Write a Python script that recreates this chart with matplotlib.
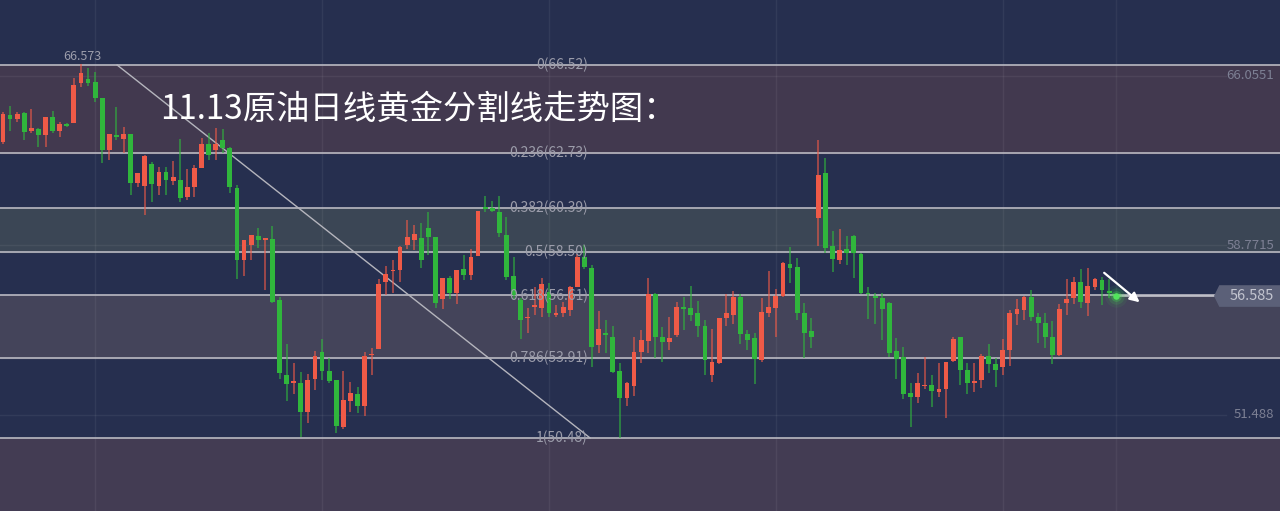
import numpy as np
import matplotlib
matplotlib.use("Agg")
import matplotlib.pyplot as plt
from matplotlib.patches import Polygon

plt.rcParams['font.family'] = ['Noto Sans CJK SC', 'DejaVu Sans']

# ── Données ─────────────────────────────────────────────────────────────
opens = [63.21, 64.37, 64.20, 64.46, 63.68, 63.77, 63.51, 64.29, 63.68, 63.98,
         64.03, 65.75, 65.92, 65.79, 65.10, 62.87, 63.51, 63.34, 63.55, 61.45,
         61.32, 62.26, 61.32, 61.92, 61.53, 61.57, 60.84, 61.27, 62.09, 63.12,
         62.87, 63.29, 62.95, 61.23, 58.13, 58.78, 59.17, 58.99, 59.04, 56.41,
         53.19, 52.84, 52.84, 51.60, 53.02, 54.18, 53.36, 52.97, 50.95, 52.07,
         52.37, 51.86, 54.05, 54.31, 57.19, 57.66, 57.70, 58.78, 58.99, 59.08,
         59.51, 59.12, 56.46, 57.36, 56.71, 57.75, 57.49, 58.30, 60.41, 60.37,
         60.20, 59.21, 57.45, 56.41, 55.64, 56.11, 56.07, 56.76, 55.77, 55.85,
         55.98, 56.97, 58.26, 57.79, 54.48, 54.99, 54.82, 53.36, 52.20, 52.72,
         54.18, 54.65, 56.67, 54.82, 54.61, 54.91, 56.11, 56.07, 55.85, 55.29,
         53.19, 53.70, 55.64, 55.77, 56.54, 54.95, 54.78, 53.83, 55.85, 56.07,
         56.59, 57.96, 57.83, 55.85, 55.08, 59.94, 61.88, 58.73, 58.13, 58.60,
         59.17, 58.39, 56.71, 56.59, 56.50, 56.28, 54.22, 53.96, 52.41, 52.24,
         52.72, 52.76, 52.46, 52.59, 53.79, 54.82, 53.40, 52.86, 52.97, 54.00,
         53.66, 53.53, 54.26, 55.81, 55.98, 56.54, 55.68, 55.42, 54.82, 54.05,
         56.28, 56.50, 57.19, 56.28, 56.97, 57.27, 56.80]
highs = [64.50, 64.76, 64.50, 64.50, 64.63, 63.81, 64.29, 64.55, 64.07, 64.03,
         65.96, 66.57, 66.39, 66.22, 65.10, 63.55, 64.72, 63.85, 63.55, 61.88,
         62.65, 62.35, 62.13, 62.13, 62.39, 63.34, 62.05, 62.22, 63.38, 63.60,
         63.81, 63.77, 62.99, 61.36, 58.99, 59.21, 59.51, 59.08, 59.60, 56.54,
         54.52, 53.70, 53.32, 53.23, 54.22, 54.74, 53.92, 52.97, 53.36, 52.89,
         52.67, 54.18, 54.35, 57.32, 57.88, 58.13, 58.73, 59.85, 59.64, 59.72,
         60.20, 59.12, 57.36, 57.45, 57.70, 58.35, 58.60, 60.24, 60.89, 60.67,
         60.89, 59.98, 58.26, 56.50, 56.07, 56.97, 57.36, 57.15, 56.20, 56.33,
         57.02, 58.39, 58.78, 57.92, 55.94, 55.55, 55.29, 53.70, 52.89, 54.82,
         55.12, 57.36, 56.71, 55.25, 55.68, 56.33, 56.54, 57.02, 56.37, 55.55,
         55.17, 55.64, 56.67, 56.80, 56.67, 55.12, 55.00, 56.50, 57.66, 56.89,
         58.05, 58.69, 58.22, 56.28, 55.64, 63.29, 62.52, 59.38, 59.47, 59.17,
         59.21, 58.43, 56.97, 56.71, 56.71, 56.33, 54.78, 54.39, 52.84, 53.27,
         53.96, 53.19, 53.70, 53.75, 54.82, 54.82, 53.70, 53.70, 54.09, 54.52,
         53.92, 54.74, 55.98, 56.46, 56.59, 56.84, 55.85, 55.85, 55.51, 56.24,
         57.32, 57.40, 57.75, 57.79, 57.36, 57.40, 57.32]
lows = [63.12, 63.68, 64.07, 63.29, 63.60, 62.99, 62.99, 63.60, 63.42, 63.85,
        64.03, 65.57, 65.62, 64.93, 62.31, 62.43, 63.29, 62.74, 60.93, 61.27,
        60.07, 60.63, 60.93, 60.93, 61.36, 60.63, 60.71, 60.84, 62.09, 62.43,
        62.43, 62.74, 61.01, 57.32, 57.45, 58.13, 58.65, 56.84, 56.28, 53.02,
        52.07, 52.37, 50.52, 51.12, 52.54, 52.97, 52.84, 50.69, 50.86, 51.60,
        51.56, 51.42, 53.19, 54.31, 56.63, 56.71, 57.19, 58.60, 58.56, 57.79,
        58.35, 56.07, 56.03, 56.46, 56.24, 57.27, 57.27, 58.30, 60.20, 60.20,
        59.12, 57.27, 56.41, 54.74, 54.99, 55.77, 55.68, 55.68, 55.68, 55.68,
        55.72, 56.97, 57.75, 53.53, 54.13, 54.13, 53.27, 50.48, 51.86, 52.28,
        53.70, 54.13, 53.92, 53.75, 54.26, 54.82, 55.12, 55.51, 54.82, 53.19,
        52.89, 53.66, 55.29, 55.38, 54.52, 54.26, 52.80, 53.75, 55.68, 54.82,
        56.54, 57.15, 55.55, 53.92, 54.35, 58.73, 58.43, 57.62, 57.96, 57.92,
        57.36, 56.67, 55.60, 55.38, 54.69, 53.96, 53.02, 52.15, 50.95, 51.99,
        52.59, 51.81, 52.24, 51.34, 53.75, 52.76, 52.37, 52.46, 52.63, 53.27,
        52.67, 53.19, 53.58, 55.34, 55.55, 55.51, 54.56, 54.35, 53.66, 54.00,
        55.77, 56.24, 56.07, 55.72, 56.84, 56.20, 56.50]
closes = [64.42, 64.20, 64.42, 63.64, 63.81, 63.51, 64.29, 63.68, 63.98, 63.90,
          65.66, 66.17, 65.75, 65.10, 62.87, 63.55, 63.42, 63.55, 61.45, 61.88,
          62.61, 61.40, 61.92, 61.57, 61.70, 60.80, 61.27, 62.09, 63.12, 62.65,
          63.12, 62.95, 61.27, 58.13, 58.99, 59.21, 58.99, 59.08, 56.33, 53.27,
          52.80, 52.93, 51.60, 52.97, 54.00, 53.36, 52.93, 50.99, 52.11, 52.41,
          51.86, 54.00, 54.09, 57.10, 57.53, 57.70, 58.69, 59.12, 59.25, 58.13,
          59.12, 56.28, 57.36, 56.71, 57.70, 57.49, 58.26, 60.24, 60.33, 60.24,
          59.30, 57.40, 56.63, 55.55, 55.68, 56.20, 57.10, 55.85, 55.85, 56.11,
          56.97, 58.26, 57.83, 54.39, 55.17, 54.91, 53.32, 52.20, 52.84, 54.18,
          54.69, 56.67, 54.82, 54.61, 54.78, 56.11, 56.03, 55.77, 55.29, 53.83,
          53.75, 55.64, 55.85, 56.54, 54.95, 54.69, 53.88, 55.89, 56.11, 56.59,
          58.00, 57.79, 55.85, 54.99, 54.82, 61.79, 58.65, 58.17, 58.56, 58.43,
          58.43, 56.71, 56.67, 56.50, 56.03, 54.13, 53.88, 52.37, 52.24, 52.84,
          52.76, 52.50, 52.59, 53.75, 54.74, 53.40, 52.84, 52.89, 54.00, 53.66,
          53.40, 54.26, 55.85, 56.03, 56.54, 55.68, 55.42, 54.82, 54.05, 56.03,
          56.46, 57.19, 56.33, 57.02, 57.32, 56.84, 56.71]

last_price = 56.585
fib_ratios = ["0", "0.236", "0.382", "0.5", "0.618", "0.786", "1"]
fib_prices = [66.52, 62.73, 60.39, 58.50, 56.61, 53.91, 50.48]
axis_labels = [66.0551, 58.7715, 51.488]
top_high_label = "66.573"
trend_x = [16.1, 82.8]
trend_y = [66.52, 50.48]
title = "11.13原油日线黄金分割线走势图："

# ── Style ────────────────────────────────────────────────────────────────
BG = "#262f4f"
RED = "#ef5a47"
GREEN = "#30b63c"

fig = plt.figure(figsize=(12.8, 5.11), dpi=100, facecolor=BG)
ax = fig.add_axes([0, 0, 1, 1])
ax.set_facecolor(BG)
ax.set_xlim(-0.42, 180.1)
ax.set_ylim(47.34, 69.316)
ax.axis("off")

# bandes de Fibonacci
ax.axhspan(fib_prices[1], fib_prices[0], color="#42394f", zorder=0)
ax.axhspan(fib_prices[3], fib_prices[2], color="#3b4655", zorder=0)
ax.axhspan(fib_prices[5], fib_prices[4], color="#44445a", zorder=0)
ax.axhspan(40, fib_prices[6], color="#433c53", zorder=0)

# grille verticale
for gx in range(13, 160, 32):
    ax.axvline(gx, color="#ffffff", alpha=0.06, lw=1, zorder=1)
ax.axvline(157, color="#ffffff", alpha=0.05, lw=1, zorder=1)

# lignes de l'axe des prix
for v in axis_labels:
    ax.plot([-1, 172.5], [v, v], color="#ffffff", alpha=0.06, lw=1, zorder=1)
    ax.text(179.3, v, f"{v:g}", color="#7d8094", fontsize=9.5,
            ha="right", va="center", zorder=5)

# niveaux de Fibonacci
for r, v in zip(fib_ratios, fib_prices):
    ax.axhline(v, color="#b9b9c2", lw=1.2, zorder=2)
    ax.text(82.5, v, f"{r}({v:.2f})", color="#9c9dab", fontsize=10,
            ha="right", va="center", zorder=6)

# ligne de tendance
ax.plot(trend_x, trend_y, color="#b5b5bd", lw=1, zorder=3)

# chandeliers
idx = np.arange(len(opens))
o = np.array(opens); h = np.array(highs); l = np.array(lows); c = np.array(closes)
up = c >= o
cols = np.where(up, RED, GREEN)
ax.vlines(idx, l, h, colors=cols, lw=1.1, alpha=0.75, zorder=4)
body_lo = np.minimum(o, c)
body_h = np.maximum(np.abs(c - o), 0.06)
ax.bar(idx, body_h, bottom=body_lo, width=0.68, color=cols, lw=0, zorder=4)

# prix courant
n = len(opens)
ax.plot([n, 180.1], [last_price, last_price], color="#c4c4cc", lw=1.2, zorder=3)
for s, a in [(260, 0.08), (140, 0.15), (60, 0.3)]:
    ax.scatter([n], [last_price], s=s, color="#3fd94b", alpha=a, lw=0, zorder=6)
ax.scatter([n], [last_price], s=22, color="#52e45c", lw=0, zorder=7)

tag = Polygon([[170.9, last_price], [171.6, 57.02], [180.1, 57.02],
               [180.1, 56.15], [171.6, 56.15]], closed=True,
              color="#5b6078", zorder=5)
ax.add_patch(tag)
ax.text(179.3, last_price, f"{last_price:.3f}", color="#c3c5d0",
        fontsize=10.5, ha="right", va="center", zorder=6)

# flèche
ax.annotate("", xy=(160.6, 56.24), xytext=(155.0, 57.66),
            arrowprops=dict(arrowstyle="-|>", color="white", lw=1.6,
                            mutation_scale=14), zorder=8)

# textes
ax.text(11.2, 66.62, top_high_label, color="#9c9dab", fontsize=9,
        ha="center", va="bottom", zorder=6)
ax.text(22.1, 64.62, title, color="white", fontsize=24,
        ha="left", va="center", zorder=9)

plt.savefig("out.png", dpi=100, facecolor=BG)
plt.close()
